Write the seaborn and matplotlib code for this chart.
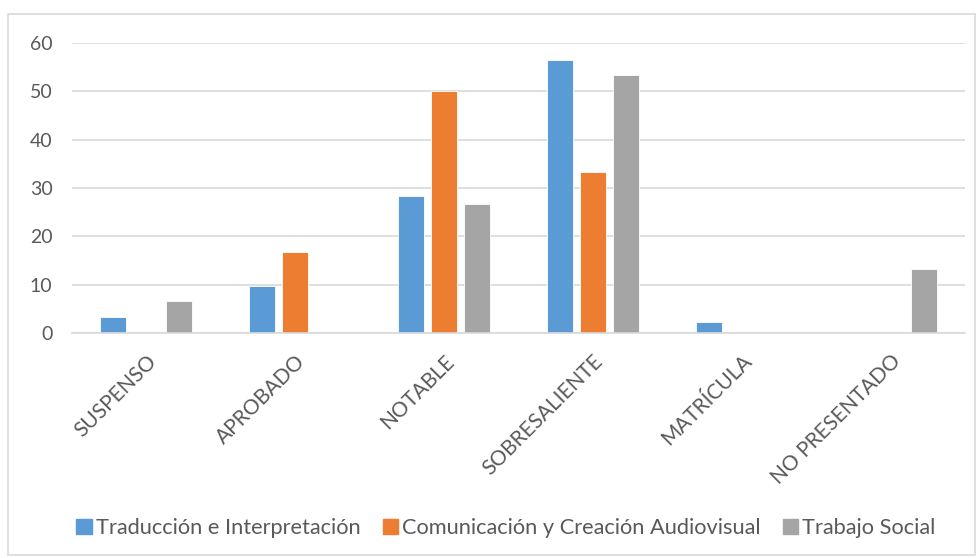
import matplotlib
matplotlib.use("Agg")
import matplotlib.pyplot as plt
from matplotlib import font_manager
from matplotlib.patches import Rectangle
import seaborn as sns
import pandas as pd

categorias = ["SUSPENSO", "APROBADO", "NOTABLE", "SOBRESALIENTE", "MATRÍCULA", "NO PRESENTADO"]
traduccion = [3.3, 9.8, 28.3, 56.5, 2.2, 0]
comunicacion = [0, 16.7, 50.0, 33.3, 0, 0]
trabajo_social = [6.7, 0, 26.7, 53.3, 0, 13.3]
series = ["Traducción e Interpretación", "Comunicación y Creación Audiovisual", "Trabajo Social"]
colores = ["#5B9BD5", "#ED7D31", "#A5A5A5"]

filas = []
for nombre, valores in zip(series, [traduccion, comunicacion, trabajo_social]):
    for cat, v in zip(categorias, valores):
        filas.append({"categoria": cat, "serie": nombre, "valor": v})
df = pd.DataFrame(filas)

sns.set_theme(style="white")
disponibles = {f.name for f in font_manager.fontManager.ttflist}
fuente = next((f for f in ["Liberation Sans Narrow", "DejaVu Sans Condensed", "Lato"] if f in disponibles), "DejaVu Sans")
plt.rcParams["font.family"] = [fuente, "DejaVu Sans"]
gris_texto = "#595959"

fig = plt.figure(figsize=(9.79, 5.58), dpi=100)
ax = fig.add_axes([72 / 979, 1 - 333 / 558, (965 - 72) / 979, (333 - 43) / 558])

sns.barplot(data=df, x="categoria", y="valor", hue="serie", palette=colores, saturation=1,
            width=0.664, gap=0.21, edgecolor="white", linewidth=0.6, ax=ax, legend=False)

ax.set_ylim(0, 60)
ax.set_xlim(-0.5, len(categorias) - 0.5)
ax.set_yticks(range(0, 61, 10))
ax.yaxis.grid(True, color="#D9D9D9", linewidth=1.2)
ax.set_axisbelow(True)
for lado in ["top", "right", "left"]:
    ax.spines[lado].set_visible(False)
ax.spines["bottom"].set_color("#D9D9D9")
ax.spines["bottom"].set_linewidth(1.2)
ax.set_xlabel("")
ax.set_ylabel("")
ax.tick_params(axis="both", length=0, colors=gris_texto, labelsize=14)
ax.tick_params(axis="x", labelsize=15, pad=13)
ax.tick_params(axis="y", pad=14)
plt.setp(ax.get_xticklabels(), rotation=45, ha="right", rotation_mode="anchor")

handles = [Rectangle((0, 0), 1, 1, color=c) for c in colores]
fig.legend(handles, series, loc="center", bbox_to_anchor=(506 / 979, 1 - 528 / 558), ncol=3,
           frameon=False, fontsize=15.7, handlelength=0.7, handleheight=0.7,
           handletextpad=0.2, columnspacing=1.0, labelcolor=gris_texto)

fig.patches.append(Rectangle((8 / 979, 3 / 558), 967 / 979, 541 / 558, transform=fig.transFigure,
                             fill=False, edgecolor="#D9D9D9", linewidth=1.2))

fig.savefig("out.png", dpi=100, facecolor="white")
